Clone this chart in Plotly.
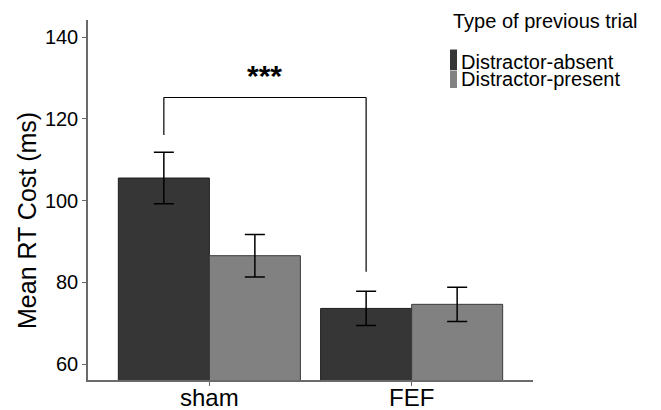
import plotly.graph_objects as go

conditions = ["sham", "FEF"]
absent_mean = [105.5, 73.6]
absent_err = [6.3, 4.2]
present_mean = [86.5, 74.6]
present_err = [5.2, 4.2]
series_names = ["Distractor-absent", "Distractor-present"]
legend_title = "Type of previous trial"
y_ticks = [60, 80, 100, 120, 140]
bracket_top = 125.2
bracket_left_end = 116.0
bracket_right_end = 82.6

DARK = "#363636"
LIGHT = "#818181"
FONT = "Liberation Sans, Arial, sans-serif"

BARGAP = 0.1
fig = go.Figure()
fig.add_trace(go.Bar(
    x=conditions, y=absent_mean, name=series_names[0],
    marker=dict(color=DARK, line=dict(color="#1e1e1e", width=1)),
    error_y=dict(type="data", array=absent_err, visible=True, color="black", thickness=1.5, width=10),
))
fig.add_trace(go.Bar(
    x=conditions, y=present_mean, name=series_names[1],
    marker=dict(color=LIGHT, line=dict(color="#3a3a3a", width=1)),
    error_y=dict(type="data", array=present_err, visible=True, color="black", thickness=1.5, width=10),
))

# bracket from sham/absent bar center to FEF/absent bar center
offset = (1 - BARGAP) / 4
xl = 0 - offset
xr = 1 - offset
line = dict(color="black", width=1.2)
fig.add_shape(type="line", xref="x", yref="y", x0=xl, x1=xl, y0=bracket_left_end, y1=bracket_top, line=line)
fig.add_shape(type="line", xref="x", yref="y", x0=xl, x1=xr, y0=bracket_top, y1=bracket_top, line=line)
fig.add_shape(type="line", xref="x", yref="y", x0=xr, x1=xr, y0=bracket_right_end, y1=bracket_top, line=line)
fig.add_annotation(x=(xl + xr) / 2, y=bracket_top, xref="x", yref="y", text="<b>***</b>",
                   showarrow=False, yanchor="bottom", yshift=4, font=dict(size=30, color="black", family=FONT))

# plot area in px: x 88..533, y 20..380
def px(xp):
    return (xp - 88) / 445.0

def py(yp):
    return (380 - yp) / 360.0

# custom legend
fig.add_annotation(x=px(451), y=py(21), xref="paper", yref="paper", text=legend_title, showarrow=False,
                   xanchor="left", yanchor="middle", font=dict(size=20, color="black", family=FONT))
fig.add_shape(type="rect", xref="paper", yref="paper", x0=px(450), x1=px(457), y0=py(49.5), y1=py(70),
              fillcolor=DARK, line=dict(width=0))
fig.add_shape(type="rect", xref="paper", yref="paper", x0=px(450), x1=px(457), y0=py(70.5), y1=py(88),
              fillcolor=LIGHT, line=dict(width=0))
fig.add_annotation(x=px(459), y=py(62), xref="paper", yref="paper", text=series_names[0], showarrow=False,
                   xanchor="left", yanchor="middle", font=dict(size=20, color="black", family=FONT))
fig.add_annotation(x=px(459), y=py(79), xref="paper", yref="paper", text=series_names[1], showarrow=False,
                   xanchor="left", yanchor="middle", font=dict(size=20, color="black", family=FONT))

# y axis title
fig.add_annotation(x=px(27), y=py(221), xref="paper", yref="paper", text="Mean RT Cost (ms)", showarrow=False,
                   textangle=-90, xanchor="center", yanchor="middle", font=dict(size=25, color="black", family=FONT))

fig.update_layout(
    width=661, height=410,
    margin=dict(l=88, r=128, t=20, b=30, autoexpand=False),
    paper_bgcolor="white", plot_bgcolor="white",
    barmode="group", bargap=BARGAP, bargroupgap=0,
    showlegend=False,
    font=dict(family=FONT, color="black"),
)
fig.update_xaxes(type="category", range=[-0.6, 1.6], showline=True, linecolor="#6a6a6a", linewidth=1.5,
                 ticks="outside", ticklen=4, tickcolor="#6a6a6a", showgrid=False, zeroline=False,
                 automargin=False, ticklabelstandoff=-9, tickfont=dict(size=24, color="black", family=FONT))
fig.update_yaxes(range=[56.09, 144.16], tickvals=y_ticks, showline=True, linecolor="#6a6a6a", linewidth=1.5,
                 ticks="outside", ticklen=4, tickcolor="#6a6a6a", showgrid=False, zeroline=False,
                 automargin=False, tickfont=dict(size=20, color="black", family=FONT))

fig.write_html("out.html", config={"displayModeBar": False},
               post_script="document.body.style.margin='0';document.body.style.overflow='hidden';")
